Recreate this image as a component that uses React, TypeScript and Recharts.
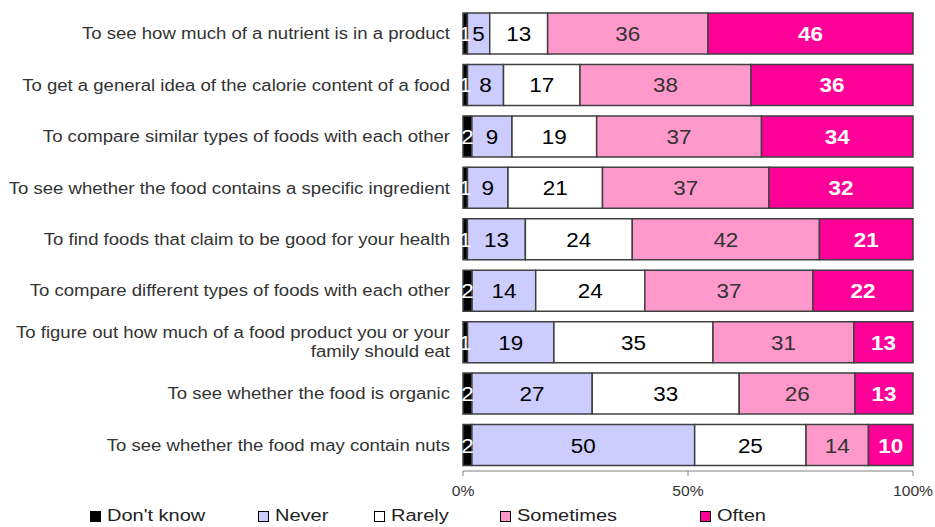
import { Bar, BarChart, LabelList, Legend, XAxis, YAxis } from "recharts";

const categories = [
  "To see how much of a nutrient is in a product",
  "To get a general idea of the calorie content of a food",
  "To compare similar types of foods with each other",
  "To see whether the food contains a specific ingredient",
  "To find foods that claim to be good for your health",
  "To compare different types of foods with each other",
  "To figure out how much of a food product you or your family should eat",
  "To see whether the food is organic",
  "To see whether the food may contain nuts",
];

const dontKnow = [1, 1, 2, 1, 1, 2, 1, 2, 2];
const never = [5, 8, 9, 9, 13, 14, 19, 27, 50];
const rarely = [13, 17, 19, 21, 24, 24, 35, 33, 25];
const sometimes = [36, 38, 37, 37, 42, 37, 31, 26, 14];
const often = [46, 36, 34, 32, 21, 22, 13, 13, 10];

const xTicks = [0, 0.5, 1];

const FONT = "'Liberation Sans', Arial, sans-serif";

const series = [
  { key: "dontKnow", name: "Don't know", fill: "#000000", label: "#ffffff", bold: false },
  { key: "never", name: "Never", fill: "#ccccff", label: "#000000", bold: false },
  { key: "rarely", name: "Rarely", fill: "#ffffff", label: "#000000", bold: false },
  { key: "sometimes", name: "Sometimes", fill: "#ff99cc", label: "#333333", bold: false },
  { key: "often", name: "Often", fill: "#ff0099", label: "#ffffff", bold: true },
];

const data = categories.map((c, i) => ({
  category: c,
  dontKnow: dontKnow[i],
  never: never[i],
  rarely: rarely[i],
  sometimes: sometimes[i],
  often: often[i],
}));

// the original text is a bit stretched sideways
const SX = 1.16;

// greedy word wrap, long labels break onto a second line
function wrap(text: string, max = 55) {
  const lines: string[] = [];
  let cur = "";
  for (const w of text.split(" ")) {
    const next = cur ? cur + " " + w : w;
    if (next.length > max && cur) {
      lines.push(cur);
      cur = w;
    } else cur = next;
  }
  if (cur) lines.push(cur);
  return lines;
}

function CategoryTick(props: any) {
  const { x, y, payload } = props;
  const lines = wrap(payload.value);
  const lh = 19;
  const start = 5.5 - ((lines.length - 1) * lh) / 2;
  return (
    <g transform={`translate(${x},${y}) scale(${SX},1)`}>
      <text x={0} y={start} textAnchor="end" fontSize={16} fill="#333333" fontFamily={FONT}>
        {lines.map((l, i) => (
          <tspan key={i} x={0} dy={i === 0 ? 0 : lh}>
            {l}
          </tspan>
        ))}
      </text>
    </g>
  );
}

function PercentTick(props: any) {
  const { x, y, payload } = props;
  return (
    <g transform={`translate(${x},${y}) scale(1.12,1)`}>
      <text x={0} y={0} dy={12} textAnchor="middle" fontSize={14} fill="#333333" fontFamily={FONT}>
        {`${Math.round(payload.value * 100)}%`}
      </text>
    </g>
  );
}

function makeLabel(color: string, bold: boolean) {
  return (props: any) => {
    const { x, y, width, height, value } = props;
    const cx = x + width / 2;
    const cy = y + height / 2;
    return (
      <g transform={`translate(${cx},${cy}) scale(1.07,1)`}>
        <text
          x={0}
          y={7.5}
          textAnchor="middle"
          fontSize={21}
          fill={color}
          fontWeight={bold ? "bold" : "normal"}
          fontFamily={FONT}
        >
          {value}
        </text>
      </g>
    );
  };
}

const legendX = [90, 258, 374, 500, 700];

function LegendContent() {
  return (
    <div style={{ position: "relative", height: 26, fontFamily: FONT, fontSize: 16, color: "#222222" }}>
      {series.map((s, i) => (
        <div
          key={s.key}
          style={{ position: "absolute", left: legendX[i], top: 6, display: "flex", alignItems: "center", whiteSpace: "nowrap" }}
        >
          <span
            style={{
              display: "inline-block",
              width: 9,
              height: 9,
              background: s.fill,
              border: "1px solid #000",
              marginRight: 6,
            }}
          />
          <span style={{ display: "inline-block", transform: "scaleX(1.25)", transformOrigin: "left center" }}>
            {s.name}
          </span>
        </div>
      ))}
    </div>
  );
}

export default function App() {
  return (
    <div style={{ position: "absolute", left: 0, top: 0, background: "#fff" }}>
      <BarChart
        width={935}
        height={527}
        data={data}
        layout="vertical"
        stackOffset="expand"
        barSize={41}
        margin={{ top: 8, right: 22, bottom: 0, left: 0 }}
      >
        <XAxis
          type="number"
          domain={[0, 1]}
          ticks={xTicks}
          height={30}
          stroke="#808080"
          tickSize={5}
          tickMargin={8}
          tick={<PercentTick />}
        />
        <YAxis
          type="category"
          dataKey="category"
          width={463}
          axisLine={false}
          tickLine={false}
          tickSize={6}
          tickMargin={7}
          interval={0}
          tick={<CategoryTick />}
        />
        <Legend verticalAlign="bottom" height={26} content={<LegendContent />} />
        {series.map((s) => (
          <Bar
            key={s.key}
            dataKey={s.key}
            name={s.name}
            stackId="a"
            fill={s.fill}
            stroke="#404040"
            strokeWidth={1.5}
            isAnimationActive={false}
          >
            <LabelList dataKey={s.key} content={makeLabel(s.label, s.bold)} />
          </Bar>
        ))}
      </BarChart>
    </div>
  );
}
